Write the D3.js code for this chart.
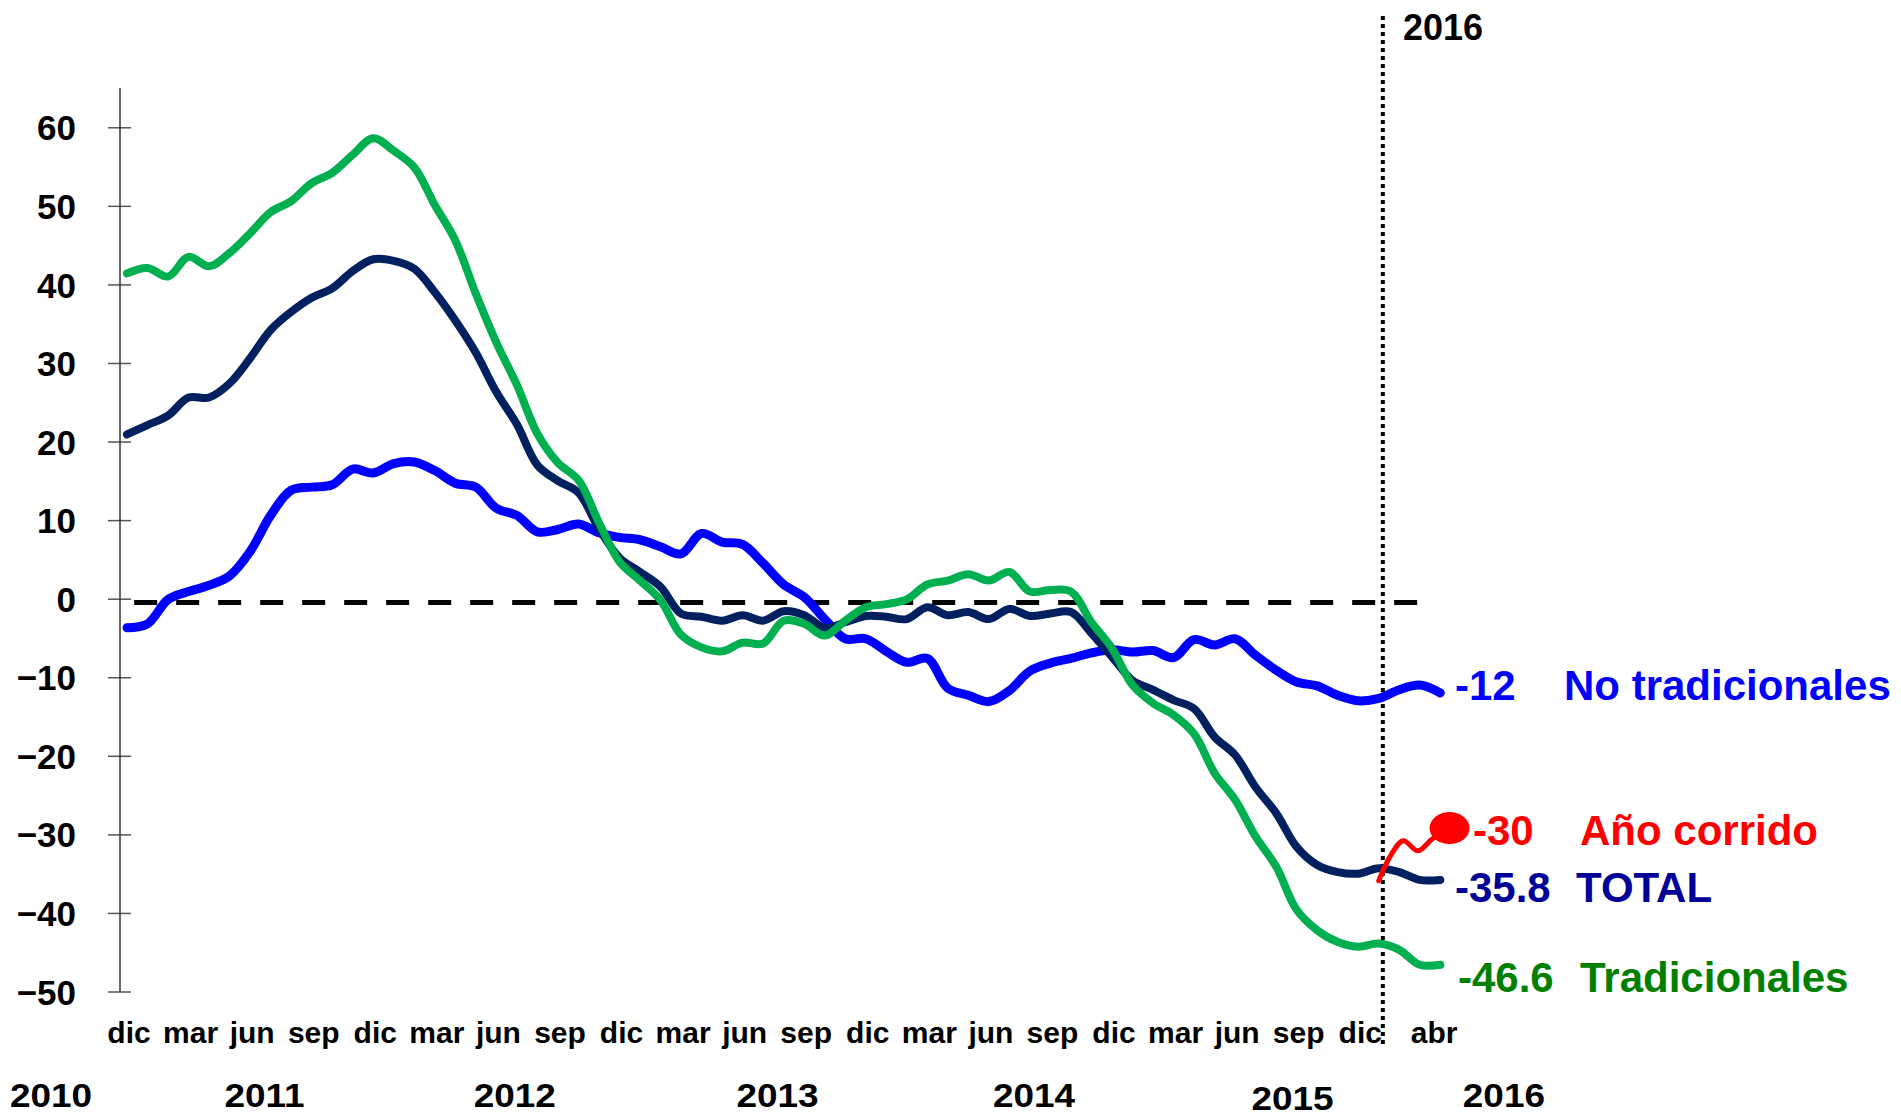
<!DOCTYPE html>
<html>
<head>
<meta charset="utf-8">
<script src="https://cdn.jsdelivr.net/npm/d3@7"></script>
<style>
  body { margin: 0; background: #fff; }
  text { font-family: "Liberation Sans", Arial, sans-serif; font-weight: bold; }
</style>
</head>
<body>
<div id="chart"></div>
<script>
// ============
// Data (monthly, dic 2010 = 0 ... abr 2016 = 64)
// ============
var tradicionales = [41.4, 42.1, 41.0, 43.5, 42.3, 44.0, 46.5, 49.2, 50.6, 52.9, 54.2, 56.5, 58.6,
  57.0, 54.9, 50.1, 45.6, 38.8, 32.6, 27.2, 21.0, 17.3, 15.1, 9.7, 4.7,
  2.3, -0.2, -4.6, -6.2, -6.7, -5.6, -5.7, -2.8, -3.2, -4.7, -2.8, -1.1,
  -0.7, -0.1, 1.8, 2.3, 3.1, 2.3, 3.4, 0.9, 1.1, 0.9, -3.0, -6.3,
  -11.0, -13.3, -14.8, -17.2, -22.2, -25.6, -30.3, -34.1, -39.6, -42.2, -43.7, -44.3,
  -43.9, -44.7, -46.6, -46.6];

var total = [20.9, 22.1, 23.3, 25.6, 25.6, 27.4, 30.6, 34.2, 36.5, 38.3, 39.5, 41.7, 43.2,
  43.0, 42.0, 39.0, 35.4, 31.3, 26.3, 22.2, 17.0, 15.0, 13.5, 8.9, 5.2,
  3.4, 1.5, -1.9, -2.3, -2.8, -2.1, -2.8, -1.6, -2.1, -3.7, -3.0, -2.2,
  -2.3, -2.6, -1.1, -2.1, -1.7, -2.6, -1.3, -2.2, -1.9, -1.7, -4.4, -7.4,
  -10.4, -11.6, -12.9, -14.0, -17.6, -19.9, -24.0, -27.3, -31.6, -33.9, -34.8, -35.0,
  -34.3, -34.8, -35.8, -35.8];

var noTradicionales = [-3.7, -3.2, -0.1, 0.9, 1.7, 2.9, 6.0, 10.6, 13.8, 14.2, 14.5, 16.5, 16.0,
  17.2, 17.4, 16.3, 14.7, 14.2, 11.5, 10.6, 8.5, 8.8, 9.5, 8.4, 7.8,
  7.5, 6.6, 5.7, 8.3, 7.2, 6.9, 4.5, 1.8, 0.2, -2.6, -5.1, -5.1,
  -6.7, -8.1, -7.6, -11.4, -12.3, -13.1, -11.7, -9.2, -8.2, -7.6, -6.9, -6.5,
  -6.8, -6.6, -7.5, -5.2, -5.9, -5.1, -7.2, -9.1, -10.6, -11.1, -12.3, -13.0,
  -12.7, -11.6, -11.0, -12.0];

// year-to-date series (2016)
var anoCorridoMonth = [61.0, 61.6, 62.2, 62.9, 63.6, 64.45];
var anoCorrido = [-35.9, -32.6, -30.8, -32.1, -30.6, -29.2];

// month labels and year labels
var monthLabels = ["dic", "mar", "jun", "sep"];
var monthTickIdx = d3.range(0, 61, 3);
var yearLabels = ["2010", "2011", "2012", "2013", "2014", "2015", "2016"];
var yearLabelIdx = [-3.7, 6.7, 18.9, 31.7, 44.2, 56.8, 67.1];
var yTicks = [-50, -40, -30, -20, -10, 0, 10, 20, 30, 40, 50, 60];

// reference lines
var zeroLineValue = -0.5;
var zeroLineRange = [0.35, 62.9];
var dividerIdx = 61.2;

// end labels
var endValues = ["-12", "-30", "-35.8", "-46.6"];
var endNames = ["No tradicionales", "Año corrido", "TOTAL", "Tradicionales"];
var endColors = ["#0000ff", "#ff0000", "#000099", "#008000"];

// ============
// Set up of the chart and svg
// ============
var svgWidth = 1901;
var svgHeight = 1118;

var svg = d3.select("#chart")
  .append("svg")
  .attr("width", svgWidth)
  .attr("height", svgHeight);

var xScale = d3.scaleLinear().domain([0, 64]).range([127, 1440.3]);
var yScale = d3.scaleLinear().domain([-50, 65]).range([991.5, 88]);

// y axis
var leftAxis = d3.axisLeft(yScale)
  .tickValues(yTicks)
  .tickSize(12)
  .tickSizeOuter(0)
  .tickPadding(32);

var yAxis = svg.append("g")
  .attr("transform", "translate(120,0)")
  .call(leftAxis);

yAxis.select(".domain").remove();
yAxis.append("line")
  .attr("x1", 0).attr("x2", 0)
  .attr("y1", yScale(65)).attr("y2", yScale(-50))
  .attr("stroke", "#333")
  .attr("stroke-width", 1.5);
yAxis.selectAll(".tick line")
  .attr("x1", -12).attr("x2", 11)
  .attr("stroke", "#555")
  .attr("stroke-width", 1.5);
yAxis.selectAll(".tick text")
  .attr("fill", "#000")
  .style("font-size", "35px")
  .attr("dy", "0.36em");

// zero reference line (dashed)
svg.append("line")
  .attr("x1", xScale(zeroLineRange[0]))
  .attr("x2", xScale(zeroLineRange[1]))
  .attr("y1", yScale(zeroLineValue))
  .attr("y2", yScale(zeroLineValue))
  .attr("stroke", "#000")
  .attr("stroke-width", 5)
  .attr("stroke-dasharray", "23,19");

// divider 2015 / 2016 (dotted)
svg.append("line")
  .attr("x1", xScale(dividerIdx)).attr("x2", xScale(dividerIdx))
  .attr("y1", 16).attr("y2", 1045)
  .attr("stroke", "#000")
  .attr("stroke-width", 4)
  .attr("stroke-dasharray", "4,4");

svg.append("text")
  .attr("x", 1403)
  .attr("y", 40)
  .style("font-size", "36px")
  .text("2016");

// ============
// Lines
// ============
var line = d3.line()
  .x((d, i) => xScale(i))
  .y(d => yScale(d))
  .curve(d3.curveCatmullRom.alpha(0.5));

svg.append("path")
  .datum(noTradicionales)
  .attr("d", line)
  .attr("fill", "none")
  .attr("stroke", "#0000ff")
  .attr("stroke-width", 9)
  .attr("stroke-linecap", "round");

svg.append("path")
  .datum(total)
  .attr("d", line)
  .attr("fill", "none")
  .attr("stroke", "#002060")
  .attr("stroke-width", 8)
  .attr("stroke-linecap", "round");

svg.append("path")
  .datum(tradicionales)
  .attr("d", line)
  .attr("fill", "none")
  .attr("stroke", "#00b050")
  .attr("stroke-width", 8)
  .attr("stroke-linecap", "round");

var redLine = d3.line()
  .x((d, i) => xScale(anoCorridoMonth[i]))
  .y(d => yScale(d))
  .curve(d3.curveCatmullRom.alpha(0.5));

svg.append("path")
  .datum(anoCorrido)
  .attr("d", redLine)
  .attr("fill", "none")
  .attr("stroke", "#ff0000")
  .attr("stroke-width", 5)
  .attr("stroke-linecap", "round");

svg.append("ellipse")
  .attr("cx", xScale(anoCorridoMonth[anoCorridoMonth.length - 1]))
  .attr("cy", yScale(anoCorrido[anoCorrido.length - 1]))
  .attr("rx", 20)
  .attr("ry", 16)
  .attr("fill", "#ff0000");

// ============
// End labels
// ============
var endBaseline = [700, 845, 902, 992];
var endValueX = [1455, 1473, 1455, 1458];
var endNameX = [1564, 1580, 1576, 1580];

endValues.forEach(function(v, i) {
  svg.append("text")
    .attr("x", endValueX[i])
    .attr("y", endBaseline[i])
    .attr("fill", endColors[i])
    .style("font-size", "42px")
    .text(v);
  svg.append("text")
    .attr("x", endNameX[i])
    .attr("y", endBaseline[i])
    .attr("fill", endColors[i])
    .style("font-size", "42px")
    .text(endNames[i]);
});

// ============
// X labels (months and years)
// ============
var monthGroup = svg.append("g");
monthTickIdx.forEach(function(m, k) {
  monthGroup.append("text")
    .attr("x", xScale(m + 0.1))
    .attr("y", 1043)
    .attr("text-anchor", "middle")
    .style("font-size", "30px")
    .text(monthLabels[k % 4]);
});
monthGroup.append("text")
  .attr("x", xScale(63.7))
  .attr("y", 1043)
  .attr("text-anchor", "middle")
  .style("font-size", "30px")
  .text("abr");

yearLabels.forEach(function(yr, k) {
  svg.append("text")
    .attr("transform", `translate(${xScale(yearLabelIdx[k])}, ${yr === "2015" ? 1110 : 1107}) scale(1.12,1)`)
    .attr("text-anchor", "middle")
    .style("font-size", "33px")
    .text(yr);
});
</script>
</body>
</html>
